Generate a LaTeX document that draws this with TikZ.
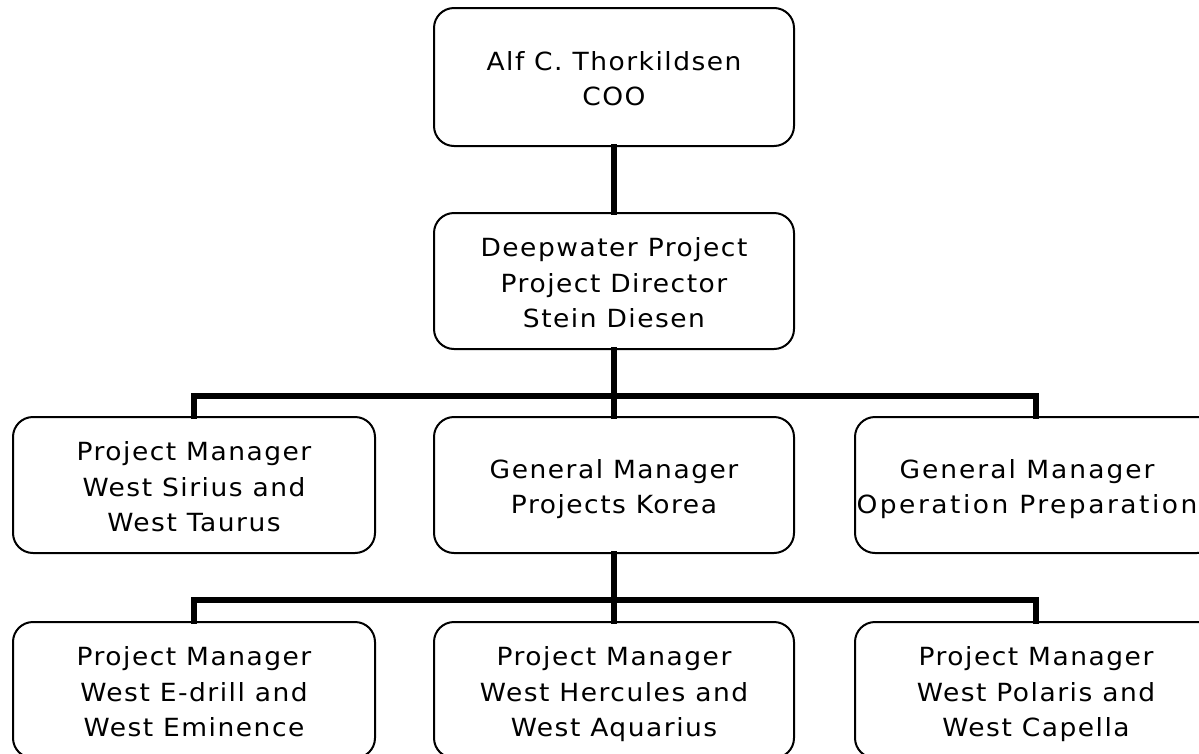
\documentclass[tikz,border=0pt]{standalone}
\usepackage{fontspec}
\setmainfont{DejaVu Sans}[LetterSpace=6,FakeStretch=1.06]
\newcommand\bs{\rule[-8pt]{0pt}{38pt}}
\newcommand\boxfont{\fontsize{25}{35.5}\selectfont\lineskiplimit=-100pt\relax}
\begin{document}
\begin{tikzpicture}[x=1pt,y=-1pt,
  box/.style={draw=black,line width=2pt,rounded corners=20pt,inner sep=0pt,
    align=center,font=\boxfont,minimum height=136pt},
  conn/.style={line width=5.5pt,line cap=rect}]
\useasboundingbox (0,0) rectangle (1199,753);
\clip (0,0) rectangle (1199,753);
\node[box,minimum width=360pt,minimum height=138pt] (coo) at (614,77) {\bs Alf C. Thorkildsen\\COO\bs};
\node[box,minimum width=360pt] (dir) at (614,281) {\bs Deepwater Project\\Project Director\\Stein Diesen\bs};
\node[box,minimum width=362pt] (pm1) at (194,485) {\bs Project Manager\\West Sirius and\hspace*{0.3em}\\West Taurus\bs};
\node[box,minimum width=360pt] (gm2) at (614,485) {\bs General Manager\\Projects Korea\bs};
\node[box,minimum width=362pt] (gm3) at (1036,485) {\bs{\addfontfeature{LetterSpace=8}General Manager}\hspace*{18pt}\\{\addfontfeature{LetterSpace=10}Operation Preparation}\hspace*{18pt}\bs};
\node[box,minimum width=362pt] (pm4) at (194,690) {\bs Project Manager\\West E-drill and\hspace*{0.3em}\\West Eminence\bs};
\node[box,minimum width=360pt] (pm5) at (614,690) {\bs Project Manager\\West Hercules and\hspace*{0.3em}\\West Aquarius\bs};
\node[box,minimum width=362pt] (pm6) at (1036,690) {\bs Project Manager\\West Polaris and\\West Capella\bs};
\coordinate (bus1) at (616,396);
\coordinate (bus2) at (616,600);
\draw[conn] (coo.south) -- (dir.north);
\draw[conn] (dir.south) -- (gm2.north);
\draw[conn] (pm1.north) |- (bus1) -| (gm3.north);
\draw[conn] (gm2.south) -- (pm5.north);
\draw[conn] (pm4.north) |- (bus2) -| (pm6.north);
\end{tikzpicture}
\end{document}
